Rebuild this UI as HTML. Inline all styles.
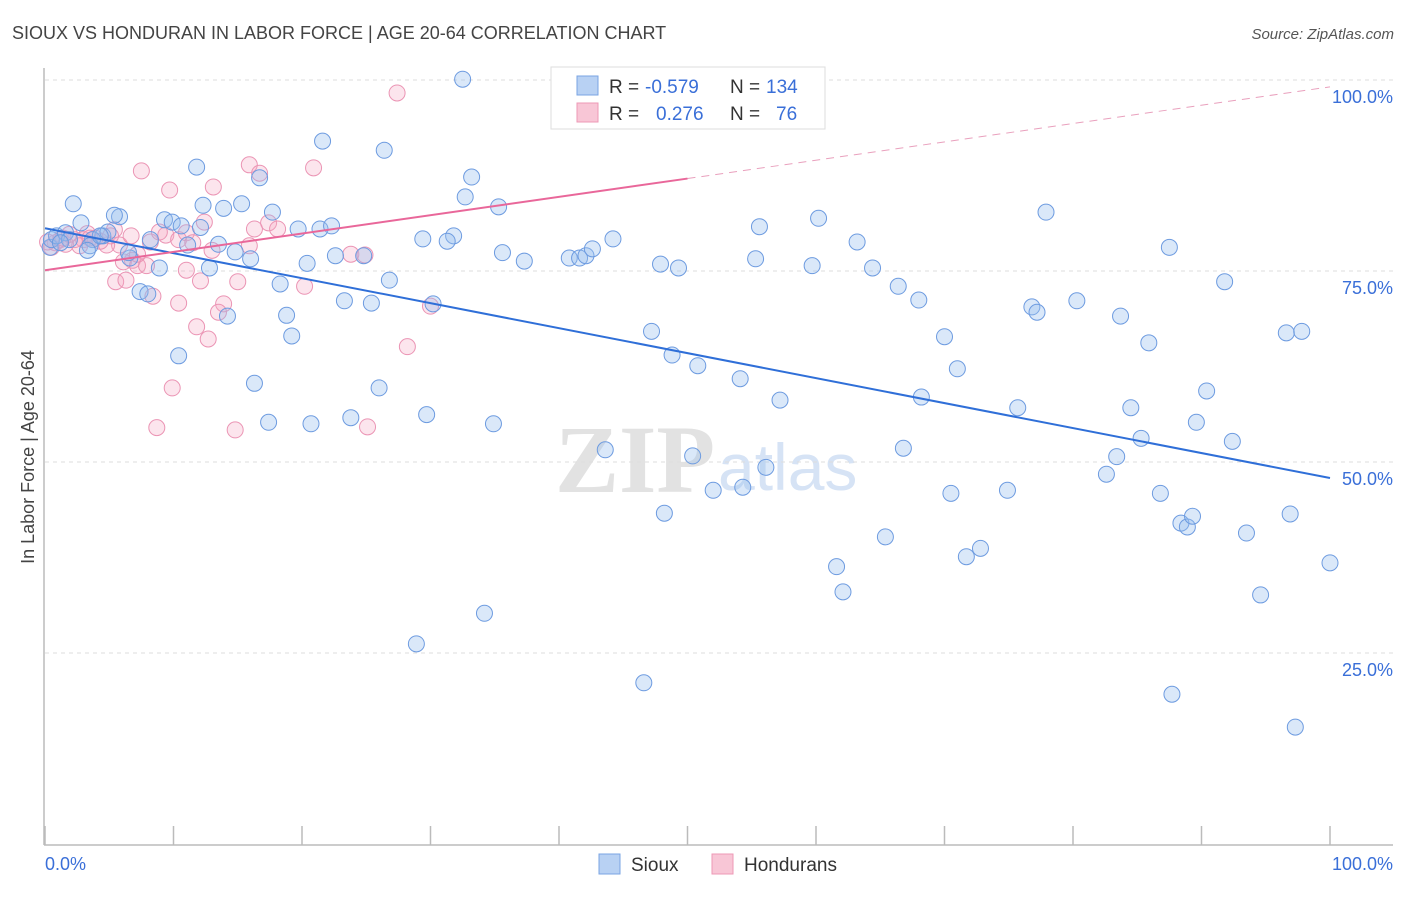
<!DOCTYPE html>
<html><head><meta charset="utf-8"><style>
body{margin:0;background:#fff;font-family:"Liberation Sans",sans-serif;}
</style></head><body>
<svg width="1406" height="892" xmlns="http://www.w3.org/2000/svg" style="font-family:'Liberation Sans',sans-serif">
<text x="12" y="39" font-size="18" fill="#444">SIOUX VS HONDURAN IN LABOR FORCE | AGE 20-64 CORRELATION CHART</text>
<text x="1394" y="39" font-size="15" fill="#555" text-anchor="end" font-style="italic">Source: ZipAtlas.com</text>
<text x="555" y="492" font-size="96" fill="#e2e2e2" font-family="Liberation Serif" font-weight="bold">ZIP</text>
<text x="718" y="490" font-size="66" fill="#d6e3f5">atlas</text>
<g id="grid"></g>
<g id="axes"></g>
<g id="pts"></g>
<g id="trend"></g>
<text transform="translate(34,457) rotate(-90)" font-size="18" fill="#444" text-anchor="middle">In Labor Force | Age 20-64</text>
<g>
<rect x="551" y="67" width="274" height="62" fill="#fff" stroke="#ddd"/>
<rect x="577" y="76" width="21" height="19" fill="#b8d1f3" stroke="#7aa4e3"/>
<rect x="577" y="103" width="21" height="19" fill="#f8c6d6" stroke="#ee98b6"/>
<text x="609" y="93" font-size="19" fill="#333">R = </text><text x="645" y="93" font-size="19" fill="#3a6fd8">-0.579</text>
<text x="730" y="93" font-size="19" fill="#333">N = </text><text x="766" y="93" font-size="19" fill="#3a6fd8">134</text>
<text x="609" y="120" font-size="19" fill="#333">R = </text><text x="656" y="120" font-size="19" fill="#3a6fd8">0.276</text>
<text x="730" y="120" font-size="19" fill="#333">N = </text><text x="776" y="120" font-size="19" fill="#3a6fd8">76</text>
</g>
<g><rect x="599" y="854" width="21" height="20" fill="#b8d1f3" stroke="#7aa4e3"/><text x="631" y="871" font-size="19" fill="#333">Sioux</text></g>
<g><rect x="712" y="854" width="21" height="20" fill="#f8c6d6" stroke="#ee98b6"/><text x="744" y="871" font-size="19" fill="#333">Hondurans</text></g>
</svg>
<script>
const blueX=[32.5,21.6,26.4,11.8,33.2,16.7,32.7,35.3,2.2,15.3,13.9,12.3,9.3,9.9,10.6,5.8,5.4,2.8,17.7,19.7,21.4,22.3,29.4,31.8,31.3,35.6,37.3,40.8,41.6,42.1,42.6,44.2,55.6,60.2,77.9,63.2,87.5,55.3,59.7,47.9,49.3,64.4,66.4,68.0,91.8,76.8,77.2,80.3,83.7,85.9,96.6,97.8,70.0,71.0,47.2,48.8,50.8,54.1,57.2,68.2,75.7,84.5,85.3,89.6,90.4,92.4,83.4,82.6,66.8,43.6,50.4,56.1,52.0,54.3,70.5,74.9,86.8,88.4,88.9,89.3,93.5,96.9,100.0,65.4,71.7,72.8,48.2,61.6,62.1,94.6,87.7,97.3,34.2,28.9,46.6,22.6,24.8,26.8,30.2,23.3,25.4,18.3,18.8,19.2,26.0,16.3,10.4,17.4,20.7,23.8,29.7,34.9,14.2,12.8,11.1,13.5,14.8,16.0,20.4,8.9,7.4,8.0,6.6,6.5,4.5,3.7,3.5,3.3,0.4,0.5,0.9,1.6,1.9,1.2,4.9,4.3,8.2,12.1];
const blueY=[100.1,92.0,90.8,88.6,87.3,87.2,84.7,83.4,83.8,83.8,83.2,83.6,81.7,81.4,80.9,82.1,82.3,81.3,82.7,80.5,80.5,80.9,79.2,79.6,78.9,77.4,76.3,76.7,76.7,77.0,77.9,79.2,80.8,81.9,82.7,78.8,78.1,76.6,75.7,75.9,75.4,75.4,73.0,71.2,73.6,70.3,69.6,71.1,69.1,65.6,66.9,67.1,66.4,62.2,67.1,64.0,62.6,60.9,58.1,58.5,57.1,57.1,53.1,55.2,59.3,52.7,50.7,48.4,51.8,51.6,50.8,49.3,46.3,46.7,45.9,46.3,45.9,42.0,41.5,42.9,40.7,43.2,36.8,40.2,37.6,38.7,43.3,36.3,33.0,32.6,19.6,15.3,30.2,26.2,21.1,77.0,77.0,73.8,70.7,71.1,70.8,73.3,69.2,66.5,59.7,60.3,63.9,55.2,55.0,55.8,56.2,55.0,69.1,75.4,78.4,78.5,77.5,76.6,76.0,75.4,72.3,72.0,76.7,77.4,79.6,79.1,78.3,77.7,78.1,79.1,79.6,80.0,79.1,78.7,80.1,79.6,79.1,80.7];
const pinkX=[27.4,41.3,40.5,20.9,15.9,16.7,7.5,9.7,13.1,12.4,9.4,10.4,11.0,11.5,15.9,17.4,18.1,16.3,5.4,5.8,4.8,6.7,4.3,3.3,3.0,2.3,1.2,0.8,0.5,1.6,0.2,6.8,6.1,7.2,7.9,5.5,6.3,8.4,10.4,11.0,12.1,13.0,13.9,13.5,15.0,11.8,12.7,9.9,8.7,14.8,20.2,23.8,24.9,28.2,30.0,25.1,3.9,5.1,7.2,8.2,8.9,2.7,3.5,1.4,1.9];
const pinkY=[98.3,100.1,97.3,88.5,88.9,87.8,88.1,85.6,86.0,81.4,79.7,79.1,80.0,78.7,78.3,81.3,80.5,80.5,80.4,78.4,78.4,79.6,78.9,79.9,79.1,79.1,79.1,78.7,78.1,78.5,78.8,76.4,76.2,75.7,75.7,73.6,73.8,71.7,70.8,75.1,73.7,77.7,70.7,69.6,73.6,67.7,66.1,59.7,54.5,54.2,73.0,77.2,77.1,65.1,70.4,54.6,79.3,79.6,77.2,78.8,80.1,78.3,79.3,79.3,79.8];
const blueTrend=[80.6,47.9];
const pinkTrend=[75.1,99.1];
const yTicks=[100,75,50,25];
const yTickLabels=["100.0%","75.0%","50.0%","25.0%"];
const xTicks=[0,10,20,30,40,50,60,70,80,90,100];
const NS="http://www.w3.org/2000/svg";
const sx=v=>45+v*12.85, sy=v=>844-v*7.64;
function mk(t,a,p){const e=document.createElementNS(NS,t);for(const k in a)e.setAttribute(k,a[k]);document.getElementById(p).appendChild(e);return e;}
yTicks.forEach((t,i)=>{
 const l=mk('line',{x1:45,x2:1393,y1:sy(t),y2:sy(t),stroke:'#ddd','stroke-dasharray':'4,4'},'grid');
 
 
 const tx=mk('text',{x:1393,y:sy(t)+23,'font-size':18,fill:'#3a6fd8','text-anchor':'end'},'grid');tx.textContent=yTickLabels[i];
 
 
});
const ax=mk('line',{x1:44,x2:1393,y1:845,y2:845,stroke:'#bbb','stroke-width':1.5},'axes');


const ay=mk('line',{x1:44,x2:44,y1:68,y2:845,stroke:'#bbb','stroke-width':1.5},'axes');


xTicks.forEach(t=>{const l=mk('line',{x1:sx(t),x2:sx(t),y1:826,y2:845,stroke:'#bbb','stroke-width':1.5},'axes');
 
 });
const x0=mk('text',{x:45,y:870,'font-size':18,fill:'#3a6fd8'},'axes');x0.textContent='0.0%';


const x1=mk('text',{x:1393,y:870,'font-size':18,fill:'#3a6fd8','text-anchor':'end'},'axes');x1.textContent='100.0%';


pinkX.forEach((x,i)=>{const c=mk('circle',{cx:sx(x),cy:sy(pinkY[i]),r:8,fill:'rgba(246,168,195,0.3)',stroke:'#eb94b4','stroke-width':1},'pts');
 
 });
blueX.forEach((x,i)=>{const c=mk('circle',{cx:sx(x),cy:sy(blueY[i]),r:8,fill:'rgba(150,188,238,0.35)',stroke:'#6d9be0','stroke-width':1},'pts');
 
 });
const bt=mk('line',{x1:sx(0),y1:sy(blueTrend[0]),x2:sx(100),y2:sy(blueTrend[1]),stroke:'#2f6fd8','stroke-width':2},'trend');


const pm=pinkTrend[0]+(pinkTrend[1]-pinkTrend[0])*0.5;
const pt=mk('line',{x1:sx(0),y1:sy(pinkTrend[0]),x2:sx(50),y2:sy(pm),stroke:'#e9679a','stroke-width':2},'trend');


const pd=mk('line',{x1:sx(50),y1:sy(pm),x2:sx(100),y2:sy(pinkTrend[1]),stroke:'#e9a0bd','stroke-width':1,'stroke-dasharray':'8,6'},'trend');


</script>
</body></html>
